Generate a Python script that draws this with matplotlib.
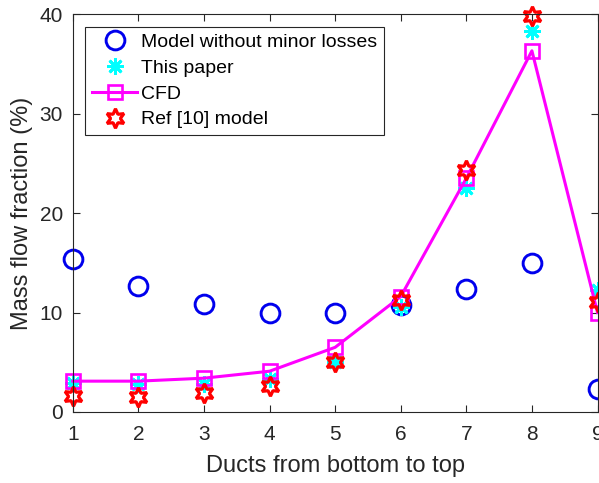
import matplotlib.pyplot as plt
import numpy as np

plt.rcParams['font.family'] = ['Liberation Sans', 'DejaVu Sans']

ducts = [1, 2, 3, 4, 5, 6, 7, 8, 9]
no_minor = [15.4, 12.7, 10.9, 10.0, 10.0, 10.8, 12.4, 15.0, 2.3]
this_paper = [2.9, 2.8, 2.8, 3.3, 5.0, 10.6, 22.5, 38.3, 12.3]
cfd = [3.1, 3.1, 3.4, 4.1, 6.5, 11.6, 23.5, 36.3, 10.0]
ref10 = [1.6, 1.5, 1.9, 2.6, 5.0, 11.3, 24.3, 39.8, 11.1]

fig = plt.figure(figsize=(5.99, 4.83), dpi=100)
ax = fig.add_axes([0.1215, 0.147, 0.876, 0.824])

ax.plot(ducts, no_minor, 'o', color=(0, 0, 0.93), mfc='none', ms=13.5, mew=2.1,
        label='Model without minor losses', clip_on=False)
ax.plot(ducts, this_paper, marker=(8, 2, 0), ls='none', color='cyan', ms=12, mew=2,
        label='This paper', clip_on=False)
ax.plot(ducts, cfd, '-s', color='magenta', mfc='none', ms=10.5, mew=1.9, lw=2.2,
        label='CFD', clip_on=False)
ax.plot(ducts, ref10, marker=(6, 1, 0), ls='none', color='red', mfc='none', ms=14, mew=2.3,
        label='Ref [10] model', clip_on=False)

ax.set_xlim(1, 9)
ax.set_ylim(0, 40)
ax.set_xticks(ducts)
ax.set_yticks([0, 10, 20, 30, 40])
ax.tick_params(direction='in', top=True, right=True, labelsize=15, colors='0.15',
               length=5, width=0.8)
ax.tick_params(axis='x', pad=9.5)
ax.tick_params(axis='y', pad=7)
for s in ax.spines.values():
    s.set_color('0.15')
    s.set_linewidth(0.8)

ax.set_xlabel('Ducts from bottom to top', fontsize=17, color='0.15', labelpad=8)
ax.set_ylabel('Mass flow fraction (%)', fontsize=17, color='0.15', labelpad=5)

leg = ax.legend(loc='upper left', fontsize=14, fancybox=False, edgecolor='0.15',
                framealpha=1, borderpad=0.35, labelspacing=0.42, handlelength=2.3,
                handletextpad=0.2, borderaxespad=0.65)
leg.get_frame().set_linewidth(0.8)

fig.savefig('out.png', dpi=100)
